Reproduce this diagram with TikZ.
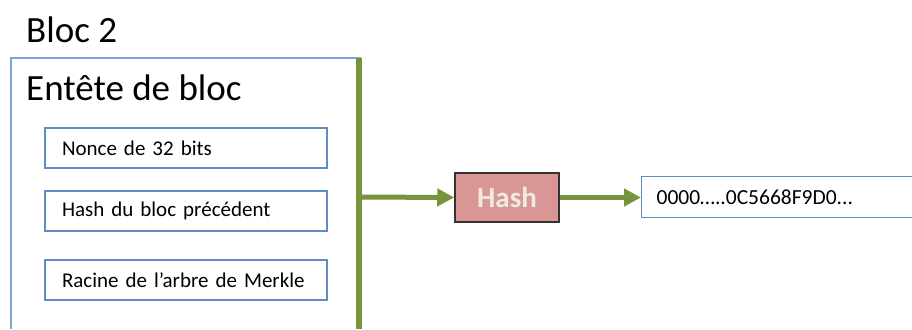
\documentclass[tikz,border=0pt]{standalone}
\usepackage{fontspec}
\setmainfont{Carlito}
\usetikzlibrary{arrows.meta}
\definecolor{frameblue}{RGB}{126,164,212}
\definecolor{boxblue}{RGB}{96,140,198}
\definecolor{olive}{RGB}{119,147,60}
\definecolor{hashfill}{RGB}{217,150,148}
\definecolor{hashtext}{RGB}{238,236,225}
\tikzset{
  field/.style={draw=boxblue, line width=1.2pt, minimum width=282pt, minimum height=40pt,
    inner xsep=17pt, text width=248pt, align=left, font=\fontsize{21}{24}\selectfont},
  flow/.style={draw=olive, line width=5pt, -{Triangle[length=17pt,width=17pt]}},
  title/.style={inner sep=0pt, anchor=base west, font=\fontsize{37}{40}\selectfont},
}
\begin{document}
\begin{tikzpicture}[x=1pt,y=-1pt]
\useasboundingbox (0,0) rectangle (912,329);
\fill[white] (0,0) rectangle (912,329);

% Block title
\node[title] (bloc) at (26,42) {Bloc 2};

% Header frame, open at the bottom
\draw[frameblue, line width=1.3pt] (11,329) -- (11,58) -- (360,58) -- (360,329);
\node[title] (entete) at (26,100) {Entête de bloc};

% Header fields
\node[field] (nonce)  at (186,148) {Nonce de 32 bits};
\node[field] (prev)   at (186,211) {Hash du bloc précédent};
\node[field] (merkle) at (186,280) {Racine de l’arbre de Merkle};

% Bus collecting the header fields
\coordinate (bustop) at (359,58);
\coordinate (busbot) at (359,329);
\coordinate (busout) at (359,197);
\draw[olive, line width=5.5pt] (bustop) -- (busbot);

% Hash function
\node[draw=black!80, line width=1.5pt, fill=hashfill, minimum width=104pt, minimum height=49pt,
  font=\fontsize{29}{32}\selectfont\bfseries, text=hashtext] (hash) at (507,197.5) {Hash};

% Resulting digest
\node[draw=boxblue, line width=1.2pt, anchor=west, minimum width=280pt, minimum height=41pt,
  inner xsep=15pt, text width=250pt, align=left, font=\fontsize{21.5}{24}\selectfont]
  (digest) at (641,197) {0000…..0C5668F9D0...};

\draw[flow] (busout) -- (hash.west);
\draw[flow] (hash.east) -- (hash.east -| digest.west);
\end{tikzpicture}
\end{document}
